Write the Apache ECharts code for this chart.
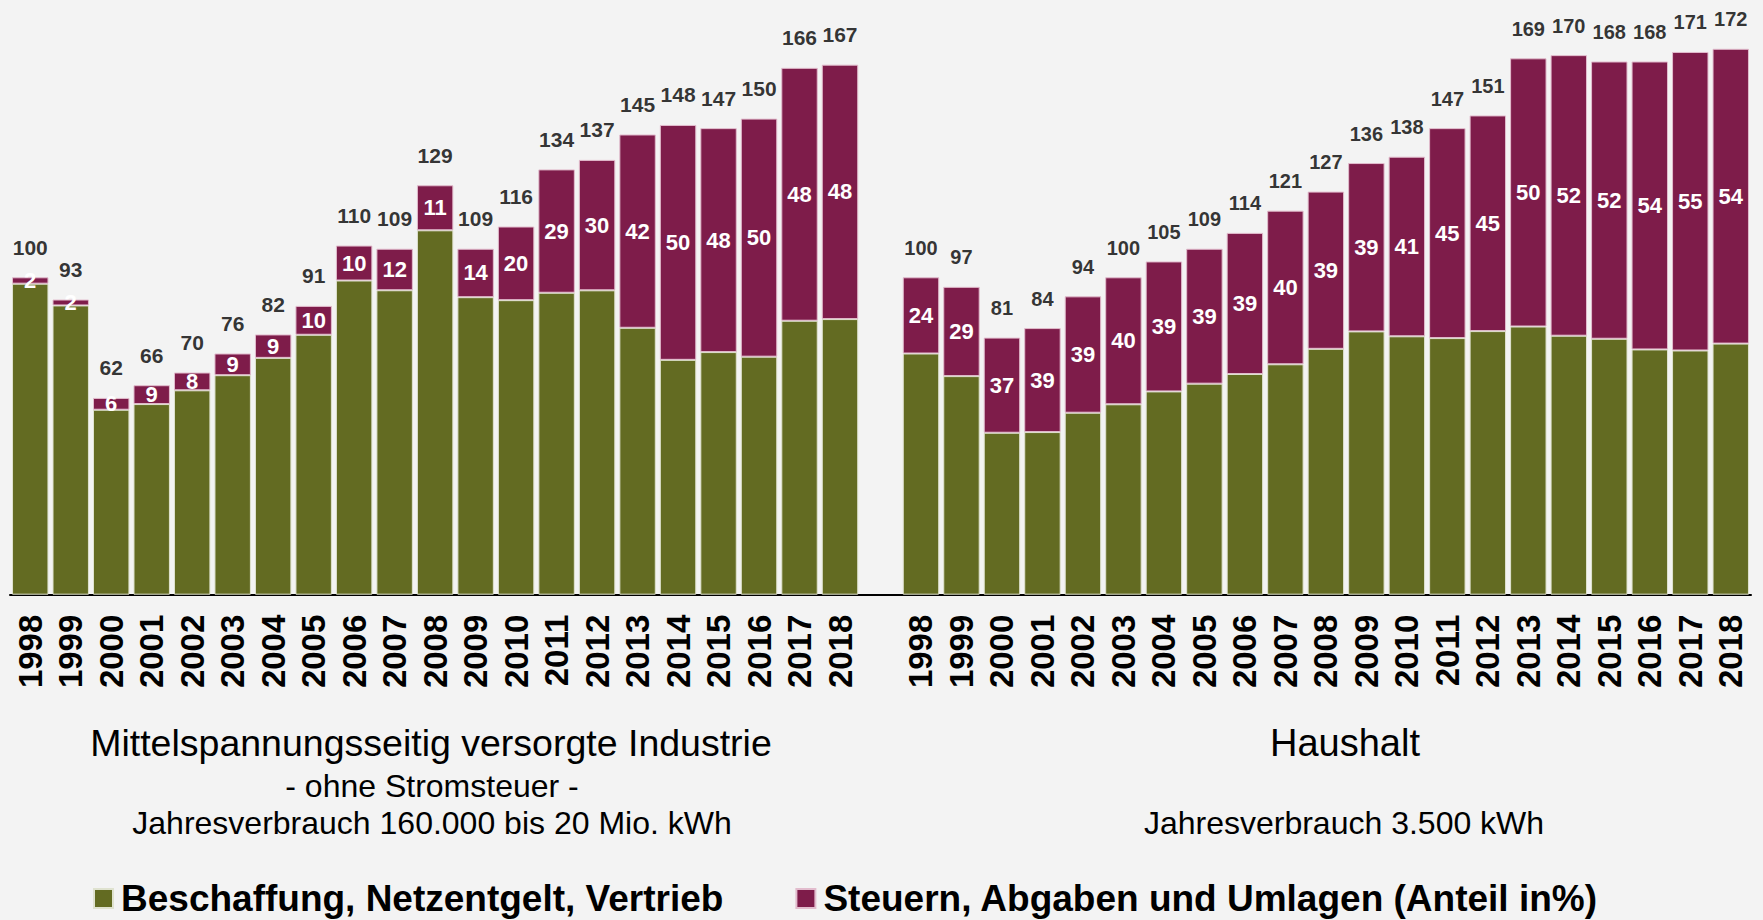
<!DOCTYPE html>
<html lang="de">
<head>
<meta charset="utf-8">
<title>Strompreise Industrie und Haushalt 1998-2018</title>
<script src="https://cdn.jsdelivr.net/npm/echarts@6.0.0/dist/echarts.min.js"></script>
<style>
  html, body { margin: 0; padding: 0; background: #f3f3f3; }
  #chart { width: 1763px; height: 920px; }
</style>
</head>
<body>
<div id="chart"></div>
<script>
// Index 1998 = 100, Anteil Steuern/Abgaben/Umlagen in %
const years = ['1998', '1999', '2000', '2001', '2002', '2003', '2004', '2005', '2006', '2007',
  '2008', '2009', '2010', '2011', '2012', '2013', '2014', '2015', '2016', '2017', '2018']

const industryTotal = [100, 93, 62, 66, 70, 76, 82, 91, 110, 109, 129, 109, 116, 134, 137, 145, 148, 147, 150, 166, 167]
const industryShare = [2, 2, 6, 9, 8, 9, 9, 10, 10, 12, 11, 14, 20, 29, 30, 42, 50, 48, 50, 48, 48]

const householdTotal = [100, 97, 81, 84, 94, 100, 105, 109, 114, 121, 127, 136, 138, 147, 151, 169, 170, 168, 168, 171, 172]
const householdShare = [24, 29, 37, 39, 39, 40, 39, 39, 39, 40, 39, 39, 41, 45, 45, 50, 52, 52, 54, 55, 54]

const seriesNames = ['Beschaffung, Netzentgelt, Vertrieb', 'Steuern, Abgaben und Umlagen (Anteil in%)']

const GREEN = '#636b22'
const PURPLE = '#7e1c4a'
const FONT = 'Arial, Liberation Sans, sans-serif'

// one category axis: left group, empty gap, right group
const categories = [...years, '', ...years]
const totals = [...industryTotal, '-', ...householdTotal]
const shares = [...industryShare, '-', ...householdShare]
const isRight = (i) => i > years.length

const baseData = totals.map((t, i) => (t === '-' ? '-' : t * (100 - shares[i]) / 100))
const taxData = totals.map((t, i) => {
  if (t === '-') return '-'
  const item = { value: t * shares[i] / 100 }
  if (isRight(i)) item.label = { fontSize: 22 }
  return item
})
const totalData = totals.map((t, i) => {
  if (t === '-') return '-'
  const item = { value: t }
  if (isRight(i)) item.label = { fontSize: 20 }
  return item
})

const chart = echarts.init(document.getElementById('chart'), null, { renderer: 'svg' })

chart.setOption({
  backgroundColor: '#f3f3f3',
  animation: false,
  textStyle: { fontFamily: FONT },
  grid: {
    left: 10,
    right: 12,
    top: 23.4,
    bottom: 325.3,
    containLabel: false
  },
  legend: {
    data: seriesNames,
    left: 88,
    top: 875,
    icon: 'rect',
    itemWidth: 19,
    itemHeight: 19,
    itemGap: 72,
    textStyle: {
      fontFamily: FONT,
      fontSize: 37,
      fontWeight: 'bold',
      color: '#000',
      padding: [0, 0, 0, 3]
    }
  },
  xAxis: {
    type: 'category',
    data: categories,
    axisLine: { lineStyle: { color: '#000', width: 2 } },
    axisTick: { length: 11, lineStyle: { color: '#000', width: 2 } },
    axisLabel: {
      interval: 0,
      rotate: 90,
      margin: 20,
      fontFamily: FONT,
      fontSize: 33,
      fontWeight: 'bold',
      color: '#000'
    }
  },
  yAxis: {
    type: 'value',
    min: 0,
    max: 180,
    show: false,
    splitLine: { show: false }
  },
  series: [
    {
      name: seriesNames[0],
      type: 'bar',
      stack: 'preis',
      barCategoryGap: '10%',
      data: baseData,
      itemStyle: { color: GREEN, borderColor: '#dfe2cf', borderWidth: 1 }
    },
    {
      name: seriesNames[1],
      type: 'bar',
      stack: 'preis',
      barCategoryGap: '10%',
      data: taxData,
      itemStyle: { color: PURPLE, borderColor: '#e2bccd', borderWidth: 1 },
      label: {
        show: true,
        position: 'inside',
        formatter: (p) => shares[p.dataIndex],
        fontFamily: FONT,
        fontSize: 22,
        fontWeight: 'bold',
        color: '#fff'
      }
    },
    {
      name: 'Index',
      type: 'scatter',
      data: totalData,
      symbolSize: 1,
      itemStyle: { color: 'rgba(0,0,0,0)' },
      label: {
        show: true,
        position: 'top',
        distance: 19,
        formatter: (p) => p.value,
        fontFamily: FONT,
        fontSize: 21,
        fontWeight: 'bold',
        color: '#000'
      }
    }
  ],
  graphic: [
    {
      type: 'text', x: 431, y: 743,
      style: { text: 'Mittelspannungsseitig versorgte Industrie', fontFamily: FONT, fontSize: 37.5, fill: '#000', align: 'center', verticalAlign: 'middle' }
    },
    {
      type: 'text', x: 432, y: 786,
      style: { text: '- ohne Stromsteuer -', fontFamily: FONT, fontSize: 32, fill: '#000', align: 'center', verticalAlign: 'middle' }
    },
    {
      type: 'text', x: 432, y: 823,
      style: { text: 'Jahresverbrauch 160.000 bis 20 Mio. kWh', fontFamily: FONT, fontSize: 32, fill: '#000', align: 'center', verticalAlign: 'middle' }
    },
    {
      type: 'text', x: 1345, y: 743,
      style: { text: 'Haushalt', fontFamily: FONT, fontSize: 38, fill: '#000', align: 'center', verticalAlign: 'middle' }
    },
    {
      type: 'text', x: 1344, y: 823,
      style: { text: 'Jahresverbrauch 3.500 kWh', fontFamily: FONT, fontSize: 32, fill: '#000', align: 'center', verticalAlign: 'middle' }
    }
  ]
})

window.addEventListener('resize', () => {
  chart.resize()
})
</script>
</body>
</html>
